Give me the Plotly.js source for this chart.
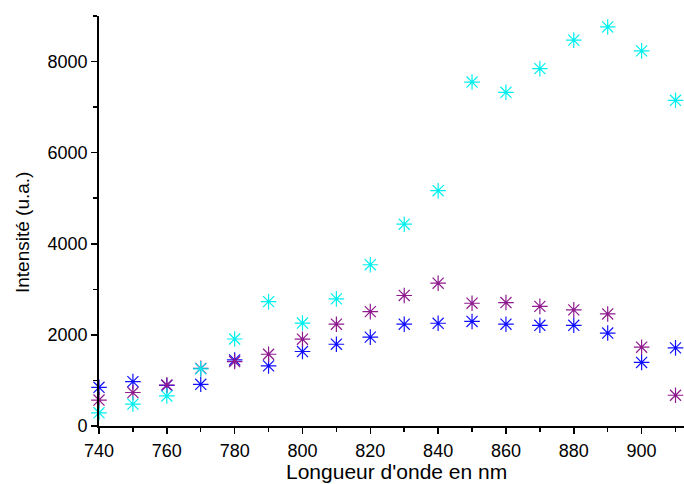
<!DOCTYPE html>
<html>
<head>
<meta charset="utf-8">
<script src="https://cdn.plot.ly/plotly-3.0.1.min.js"></script>
<style>html,body{margin:0;padding:0;background:#fff;}#chart{width:684px;height:484px;}</style>
</head>
<body>
<div id="chart"></div>
<script>
const wavelengths = [740,750,760,770,780,790,800,810,820,830,840,850,860,870,880,890,900,910];
const seriesBlue   = [850,975,890,915,1450,1320,1635,1795,1950,2235,2255,2295,2235,2210,2210,2040,1395,1715];
const seriesPurple = [570,735,900,1265,1415,1575,1905,2235,2510,2865,3135,2695,2710,2625,2550,2460,1730,675];
const seriesCyan   = [290,480,660,1255,1910,2730,2260,2790,3540,4430,5165,7550,7325,7845,8470,8760,8235,7150];
const xTitle = "Longueur d'onde en nm";
const yTitle = "Intensité (u.a.)";

function tr(y, color){
  return {x: wavelengths, y: y, type:'scatter', mode:'markers', cliponaxis:false,
    marker:{symbol:'asterisk-open', size:13, color:color, line:{color:color, width:1.2}}};
}
const data = [tr(seriesBlue,'#1010ff'), tr(seriesPurple,'#8e1a8e'), tr(seriesCyan,'#00f0f0')];
const FF = 'Liberation Sans, Arial, sans-serif';
const axisFont = {family:FF, size:18, color:'#000'};
const layout = {
  width:684, height:484, showlegend:false,
  paper_bgcolor:'#fff', plot_bgcolor:'#fff',
  margin:{l:99, r:0, t:16, b:58},
  font: axisFont,
  xaxis:{range:[740,912.5], tickmode:'array', tickvals:[740,760,780,800,820,840,860,880,900],
    ticks:'outside', ticklen:6, tickwidth:1.5, tickcolor:'#000', ticklabelstandoff:2,
    minor:{tickvals:[750,770,790,810,830,850,870,890,910], ticks:'outside', ticklen:4, tickwidth:1.5, tickcolor:'#000'},
    showline:true, linecolor:'#000', linewidth:1.8, showgrid:false, zeroline:false,
    tickfont:axisFont},
  yaxis:{range:[0,9000], tickmode:'array', tickvals:[0,2000,4000,6000,8000],
    ticks:'outside', ticklen:6, tickwidth:1.5, tickcolor:'#000',
    minor:{tickvals:[1000,3000,5000,7000,9000], ticks:'outside', ticklen:4, tickwidth:1.5, tickcolor:'#000'},
    showline:true, linecolor:'#000', linewidth:1.8, showgrid:false, zeroline:false,
    tickfont:axisFont},
  annotations:[
    {text:xTitle, xref:'paper', yref:'paper', x:0.5077, y:-0.1415, xanchor:'center', yanchor:'bottom',
     borderpad:0, showarrow:false, font:{family:FF, size:21, color:'#000'}},
    {text:yTitle, xref:'paper', yref:'paper', x:-0.1316, y:0.4707, xanchor:'center', yanchor:'middle',
     textangle:-90, showarrow:false, font:{family:FF, size:19, color:'#000'}}
  ]
};
Plotly.newPlot('chart', data, layout, {staticPlot:true, displayModeBar:false});
</script>
</body>
</html>
